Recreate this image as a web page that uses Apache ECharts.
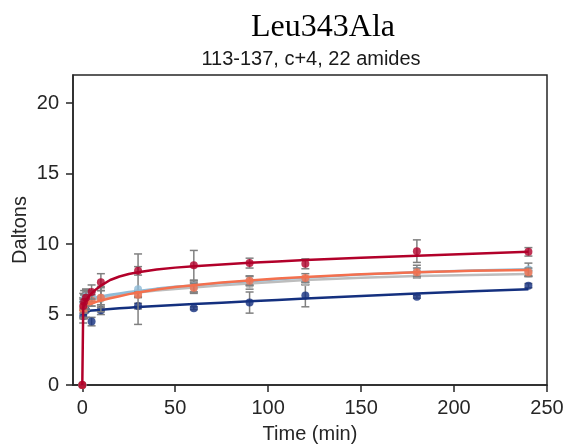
<!DOCTYPE html>
<html><head><meta charset="utf-8">
<script src="https://cdn.jsdelivr.net/npm/echarts@6/dist/echarts.min.js"></script>
<style>html,body{margin:0;padding:0;background:#fff}#c{width:569px;height:444px}</style>
</head><body><div id="c"></div>
<script>
// measured time points (min)
const times = [0, 0.5, 1, 2, 5, 10, 30, 60, 90, 120, 180, 240];
// measured deuterium uptake (Da) and standard deviations
const redVals = [0, 5.6, 5.9, 6.2, 6.6, 7.3, 8.1, 8.5, 8.65, 8.6, 9.5, 9.45];
const redErr  = [0, 0.5, 0.5, 0.6, 0.5, 0.6, 0.3, 1.05, 0.35, 0.35, 0.8, 0.3];
const orangeVals = [0, 5.3, 5.6, 5.8, 6.0, 6.2, 6.4, 6.9, 7.4, 7.6, 8.0, 8.0];
const orangeErr  = [0, 0.6, 0.5, 0.5, 0.4, 0.5, 0.2, 0.3, 0.3, 0.3, 0.3, 0.3];
const lightVals = [0, 5.9, 6.1, 6.3, 6.3, 6.2, 6.8, 7.0, 7.4, 7.5, 8.1, 8.2];
const lightErr  = [0, 0.6, 0.6, 0.5, 0.4, 0.7, 2.5, 0.4, 0.35, 0.2, 0.4, 0.45];
const grayVals = [0, 5.5, 5.8, 6.0, 6.1, 6.1, 6.5, 6.9, 7.1, 7.3, 7.8, 7.9];
const grayErr  = [0, 0.7, 0.6, 0.6, 0.5, 0.9, 0.2, 0.4, 0.3, 0.2, 0.2, 0.2];
const navyVals = [0, 4.9, 5.2, 5.3, 4.5, 5.3, 5.6, 5.45, 5.85, 6.35, 6.26, 7.05];
const navyErr  = [0, 0.5, 0.5, 0.5, 0.3, 0.3, 0.2, 0.1, 0.75, 0.8, 0.1, 0.15];
// fitted curves
const fitTimes  = [0, 0.5, 1, 2, 3, 5, 7.5, 10, 15, 20, 25, 30, 40, 50, 60, 75, 90, 105, 120, 150, 180, 210, 240];
const redFit    = [0, 5.5, 5.75, 6.0, 6.2, 6.5, 6.8, 7.05, 7.45, 7.7, 7.88, 8.0, 8.2, 8.33, 8.43, 8.56, 8.67, 8.77, 8.87, 9.03, 9.18, 9.32, 9.45];
const orangeFit = [null, 5.5, 5.55, 5.62, 5.68, 5.78, 5.9, 6.0, 6.15, 6.3, 6.45, 6.57, 6.78, 6.95, 7.08, 7.27, 7.42, 7.56, 7.67, 7.86, 8.0, 8.1, 8.17];
const lightFit  = [null, 6.0, 6.03, 6.07, 6.1, 6.15, 6.22, 6.28, 6.4, 6.5, 6.6, 6.68, 6.84, 6.97, 7.07, 7.23, 7.37, 7.5, 7.62, 7.84, 8.0, 8.12, 8.22];
const grayFit   = [null, 5.9, 5.93, 5.97, 6.0, 6.05, 6.12, 6.18, 6.3, 6.4, 6.49, 6.57, 6.7, 6.82, 6.92, 7.07, 7.2, 7.33, 7.45, 7.61, 7.73, 7.81, 7.87];
const navyFit   = [null, 5.2, 5.21, 5.23, 5.25, 5.28, 5.31, 5.34, 5.39, 5.44, 5.49, 5.53, 5.6, 5.67, 5.74, 5.84, 5.94, 6.04, 6.13, 6.32, 6.49, 6.65, 6.8];
const xTicks = [0, 50, 100, 150, 200, 250];
const yTicks = [0, 5, 10, 15, 20];

const groups = [
  {name:'navy', vals:navyVals, err:navyErr, fit:navyFit, color:'#14307f'},
  {name:'gray', vals:grayVals, err:grayErr, fit:grayFit, color:'#bdbdbd'},
  {name:'light', vals:lightVals, err:lightErr, fit:lightFit, color:'#8fbcd8'},
  {name:'orange', vals:orangeVals, err:orangeErr, fit:orangeFit, color:'#f4704e'},
  {name:'red', vals:redVals, err:redErr, fit:redFit, color:'#b2002a'}
];

const FONT = 'Liberation Sans, Arial, sans-serif';
const series = [];
groups.forEach(function(g, gi){
  series.push({
    type:'custom', name:g.name+'-err', z: 2 + gi*3,
    data: times.map(function(t,i){return [t, g.vals[i]-g.err[i], g.vals[i]+g.err[i]];}),
    renderItem: function(params, api){
      const lo = api.coord([api.value(0), api.value(1)]);
      const hi = api.coord([api.value(0), api.value(2)]);
      const w = 4;
      const st = {stroke:'#808080', lineWidth:1.5};
      return {type:'group', children:[
        {type:'line', shape:{x1:lo[0], y1:lo[1], x2:hi[0], y2:hi[1]}, style:st},
        {type:'line', shape:{x1:lo[0]-w, y1:lo[1], x2:lo[0]+w, y2:lo[1]}, style:st},
        {type:'line', shape:{x1:hi[0]-w, y1:hi[1], x2:hi[0]+w, y2:hi[1]}, style:st}
      ]};
    },
    silent:true, animation:false
  });
  series.push({
    type:'scatter', name:g.name+'-pts', z: 3 + gi*3,
    data: times.map(function(t,i){return [t, g.vals[i]];}),
    symbol:'circle', symbolSize:8, itemStyle:{color:g.color}, silent:true, animation:false
  });
  series.push({
    type:'line', name:g.name+'-fit', z: 4 + gi*3,
    data: fitTimes.map(function(t,i){return [t, g.fit[i]];}),
    showSymbol:false, smooth:false, connectNulls:false,
    lineStyle:{color:g.color, width:2.5, join:'round'}, silent:true, animation:false
  });
});

const chart = echarts.init(document.getElementById('c'), null, {renderer:'canvas'});
chart.setOption({
  backgroundColor:'#ffffff',
  animation:false,
  grid:{left:73, right:22, top:75, bottom:59, containLabel:false, outerBoundsMode:'none', show:true, borderColor:'#262626', borderWidth:1.5, backgroundColor:'transparent'},
  graphic:[
    {type:'text', x:323, y:12, style:{text:'Leu343Ala', font:'32px "Liberation Serif", "Times New Roman", serif', fill:'#000', textAlign:'center', textVerticalAlign:'top'}},
    {type:'text', x:311, y:49, style:{text:'113-137, c+4, 22 amides', font:'20px "Liberation Sans", Arial, sans-serif', fill:'#1a1a1a', textAlign:'center', textVerticalAlign:'top'}}
  ],
  xAxis:{
    type:'value', min:-5, max:250,
    name:'Time (min)', nameLocation:'middle', nameGap:39,
    nameTextStyle:{fontSize:20, color:'#262626', fontFamily:FONT},
    axisLine:{show:true, onZero:false, lineStyle:{color:'#262626', width:1.5}},
    axisTick:{show:true, length:7, inside:false, customValues:xTicks, lineStyle:{color:'#262626', width:1.5}},
    axisLabel:{show:true, customValues:xTicks, fontSize:20, color:'#262626', fontFamily:FONT, margin:13, hideOverlap:false},
    splitLine:{show:false}
  },
  yAxis:{
    type:'value', min:0, max:22,
    name:'Daltons', nameLocation:'middle', nameGap:43, nameMoveOverlap:false,
    nameTextStyle:{fontSize:20, color:'#262626', fontFamily:FONT},
    axisLine:{show:true, onZero:false, lineStyle:{color:'#262626', width:1.5}},
    axisTick:{show:true, length:7, customValues:yTicks, lineStyle:{color:'#262626', width:1.5}},
    axisLabel:{show:true, customValues:yTicks, fontSize:20, color:'#262626', fontFamily:FONT, margin:14},
    splitLine:{show:false}
  },
  series:series
});
</script></body></html>
